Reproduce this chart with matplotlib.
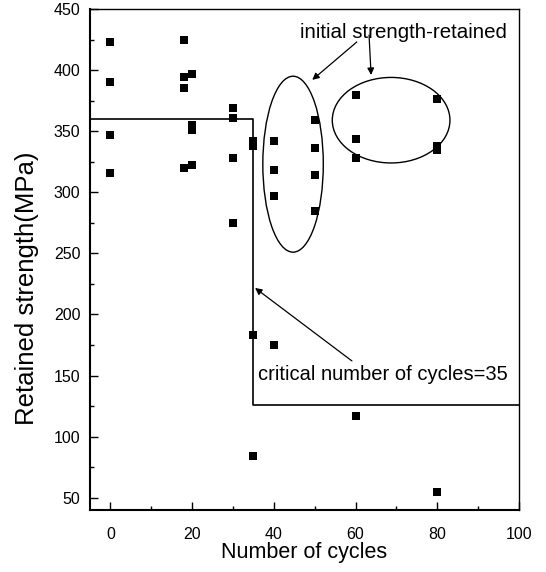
import matplotlib
matplotlib.use('Agg')
import matplotlib.pyplot as plt
from matplotlib.patches import Ellipse
from matplotlib.ticker import MultipleLocator

plt.rcParams['font.family'] = ['Liberation Sans', 'DejaVu Sans']

# data
cycles = [0, 0, 0, 0,
          18, 18, 18, 18,
          20, 20, 20, 20,
          30, 30, 30, 30,
          35, 35, 35, 35,
          40, 40, 40, 40,
          50, 50, 50, 50,
          60, 60, 60, 60,
          80, 80, 80, 80]
strength = [423, 390, 347, 316,
            425, 394, 385, 320,
            397, 355, 351, 322,
            369, 361, 328, 275,
            342, 338, 183, 84,
            342, 318, 297, 175,
            359, 336, 314, 285,
            380, 344, 328, 117,
            376, 338, 335, 55]

# critical boundary (step line)
step_x = [-5, 35, 35, 100]
step_y = [360, 360, 126, 126]

fig = plt.figure(figsize=(5.46, 5.72), dpi=100)
ax = fig.add_axes([90/546, 1-510/572, 429/546, 501/572])

ax.scatter(cycles, strength, marker='s', s=34, color='k', linewidths=0, zorder=3)
ax.plot(step_x, step_y, color='k', lw=1.2)

# circled groups
ax.add_patch(Ellipse((44.7, 323), 14.8, 144, fill=False, ec='k', lw=1.0))
ax.add_patch(Ellipse((68.7, 359), 28.8, 70, fill=False, ec='k', lw=1.0))

arr = dict(arrowstyle='-|>', color='k', lw=0.9, mutation_scale=10, shrinkA=0, shrinkB=0)
ax.text(71.8, 431, 'initial strength-retained', fontsize=14.8, ha='center', va='center')
ax.annotate('', xy=(49.4, 392), xytext=(60.3, 423), arrowprops=arr)
ax.annotate('', xy=(63.8, 396), xytext=(63.3, 428.6), arrowprops=arr)
ax.text(66.8, 150.5, 'critical number of cycles=35', fontsize=14.5, ha='center', va='center')
ax.annotate('', xy=(35.4, 221.7), xytext=(59.1, 162), arrowprops=arr)

ax.set_xlim(-5, 100)
ax.set_ylim(40, 450)
ax.xaxis.set_major_locator(MultipleLocator(20))
ax.xaxis.set_minor_locator(MultipleLocator(10))
ax.yaxis.set_major_locator(MultipleLocator(50))
ax.yaxis.set_minor_locator(MultipleLocator(25))
ax.tick_params(which='both', direction='in', width=1.0, labelsize=11.5)
ax.tick_params(which='major', length=5.5)
ax.tick_params(which='minor', length=3)
ax.tick_params(axis='x', pad=12)
ax.tick_params(axis='y', pad=7)

for s in ['left', 'bottom']:
    ax.spines[s].set_linewidth(1.5)
for s in ['top', 'right']:
    ax.spines[s].set_linewidth(1.0)

ax.set_xlabel('Number of cycles', fontsize=15.5)
ax.set_ylabel('Retained strength(MPa)', fontsize=18.5)
ax.xaxis.set_label_coords(0.5, -0.084)
ax.xaxis.label.set_va('center')
ax.yaxis.set_label_coords(-0.148, 0.443)
ax.yaxis.label.set_va('center')

fig.savefig('out.png', dpi=100)
